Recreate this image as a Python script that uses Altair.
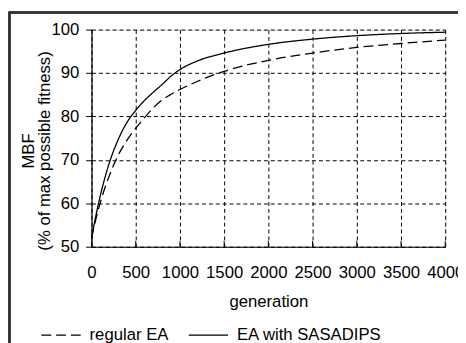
import altair as alt
import pandas as pd

generation = [0, 50, 100, 200, 300, 400, 500, 600, 700, 800, 900, 1000,
              1200, 1500, 2000, 2500, 3000, 3500, 4000]
sasadips = [52, 57.2, 61.8, 69.2, 74.6, 78.6, 81.4, 83.7, 85.6, 87.4, 89.3, 90.8,
            92.8, 94.6, 96.6, 97.8, 98.6, 99.1, 99.4]
regular = [52, 56.4, 60.2, 66.3, 71.0, 74.5, 77.3, 79.7, 82.0, 83.8, 85.1, 86.2,
           88.1, 90.4, 92.9, 94.6, 95.9, 96.8, 97.6]
series_names = ["regular EA", "EA with SASADIPS"]
x_ticks = [0, 500, 1000, 1500, 2000, 2500, 3000, 3500, 4000]
y_ticks = [50, 60, 70, 80, 90, 100]

rows = []
for g, v in zip(generation, regular):
    rows.append({"generation": g, "MBF": v, "series": series_names[0]})
for g, v in zip(generation, sasadips):
    rows.append({"generation": g, "MBF": v, "series": series_names[1]})
df = pd.DataFrame(rows)
ticks_df = pd.DataFrame({"t": x_ticks})

W, H = 360, 221
FONT = "Liberation Sans"
FS = 17

xscale = alt.Scale(domain=[0, 4000], nice=False)
yscale = alt.Scale(domain=[50, 100], nice=False)

lines = alt.Chart(df).mark_line(color="black", strokeWidth=1.3, interpolate="monotone").encode(
    x=alt.X("generation:Q", scale=xscale,
            axis=alt.Axis(values=x_ticks, format="d", title="generation", grid=True,
                          gridDash=[4, 3], gridColor="black", gridOpacity=1,
                          gridWidth=1, ticks=False, labelPadding=18,
                          domainColor="black", domainWidth=1.2,
                          labelFontSize=FS, labelFont=FONT, labelColor="black",
                          titleFontSize=FS, titleFont=FONT, titleColor="black",
                          titleFontWeight="normal", titleY=61,
                          titleBaseline="alphabetic", labelFlush=False)),
    y=alt.Y("MBF:Q", scale=yscale,
            axis=alt.Axis(values=y_ticks, format="d",
                          title=["MBF", "(% of max possible fitness)"],
                          grid=True, gridDash=[4, 3], gridColor="black",
                          gridOpacity=1, gridWidth=1, tickSize=6,
                          tickColor="black", labelPadding=7,
                          domainColor="black", domainWidth=1.2,
                          labelFontSize=FS, labelFont=FONT, labelColor="black",
                          titleFontSize=FS, titleFont=FONT, titleColor="black",
                          titleFontWeight="normal", titleAngle=270,
                          titleX=-59, titleY=123, titleAlign="center",
                          titleBaseline="alphabetic", titleLineHeight=16)),
    strokeDash=alt.StrokeDash(
        "series:N",
        scale=alt.Scale(domain=series_names, range=[[10, 5], [1, 0]]),
        legend=alt.Legend(title=None, orient="none", direction="horizontal",
                          legendX=-52, legendY=290, symbolType="stroke",
                          symbolSize=1600, symbolStrokeWidth=1.3,
                          symbolStrokeColor="black", labelOffset=8,
                          columnPadding=17, labelFontSize=FS, labelFont=FONT,
                          labelColor="black", padding=0)),
)

xticks = alt.Chart(ticks_df).mark_rule(color="black", strokeWidth=1).encode(
    x=alt.X("t:Q", scale=xscale),
    y=alt.Y(datum=50, scale=yscale),
    y2=alt.value(H - 6),
)

frame_top = alt.Chart(ticks_df).mark_rule(color="#333", strokeWidth=1.5).encode(
    x=alt.value(-83.5), x2=alt.value(420), y=alt.value(-17.5))
frame_left = alt.Chart(ticks_df).mark_rule(color="#333", strokeWidth=1.5).encode(
    x=alt.value(-83.5), y=alt.value(-18.25), y2=alt.value(340))

chart = alt.layer(lines, xticks, frame_top, frame_left).properties(
    width=W, height=H,
    autosize=alt.AutoSizeParams(type="none"),
    padding={"left": 85, "top": 19, "right": 13, "bottom": 95},
).configure_view(stroke=None).configure(background="white")

chart.save("out.html", embed_options={"renderer": "svg", "actions": False})
